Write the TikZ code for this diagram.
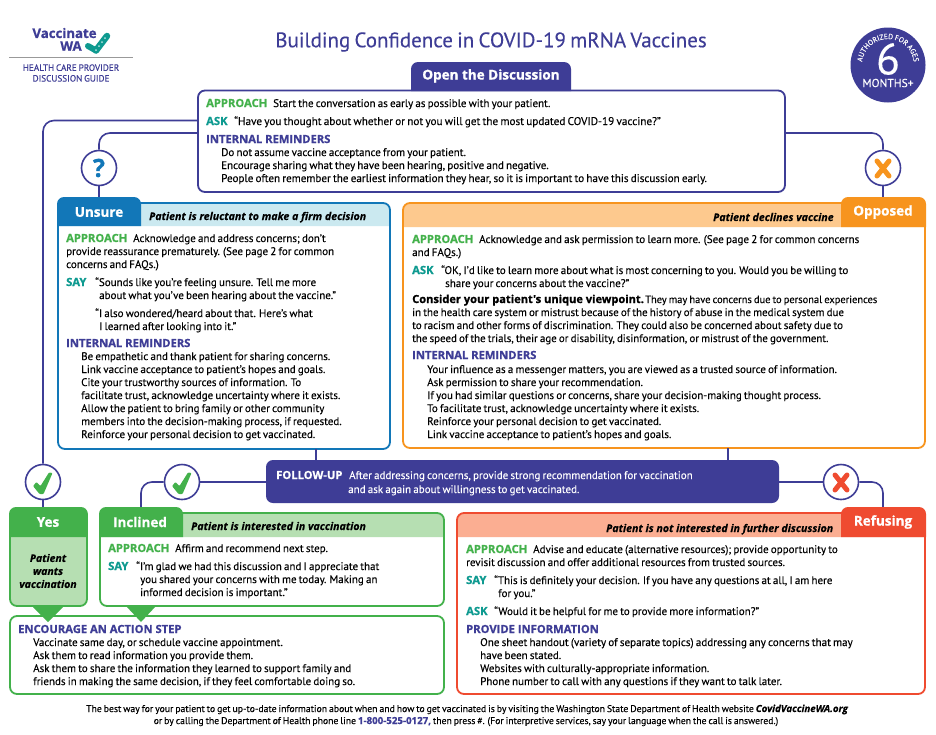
\documentclass[tikz,border=0pt]{standalone}
\usepackage{fontspec}
\usetikzlibrary{decorations.text}
\setmainfont{PT Sans}[WordSpace=0.75,FakeBold=0.12]
\newfontfamily\hd{Open Sans}[BoldFeatures={FakeBold=0.9},BoldItalicFeatures={FakeBold=0.3}]
\definecolor{navy}{HTML}{3E3D96}
\definecolor{grn}{HTML}{43B14B}
\definecolor{grnl}{HTML}{B6DFB2}
\definecolor{teal}{HTML}{0E9A90}
\definecolor{blu}{HTML}{1277B8}
\definecolor{blul}{HTML}{CBE9F0}
\definecolor{org}{HTML}{F7941E}
\definecolor{orgl}{HTML}{FDC98E}
\definecolor{rd}{HTML}{EF4B30}
\definecolor{rdl}{HTML}{FBAE92}
\tikzset{
  bodyt/.style={anchor=base west,inner sep=0pt,font=\fontsize{11}{13}\selectfont,text=black},
  lab/.style={anchor=base west,inner sep=0pt,font=\hd\bfseries\fontsize{11.2}{13}\selectfont},
  hdr/.style={anchor=base west,inner sep=0pt,font=\hd\bfseries\itshape\fontsize{10.6}{13}\selectfont,text=black},
  tabt/.style={inner sep=0pt,font=\hd\bfseries\fontsize{13.5}{15}\selectfont,text=white},
  conn/.style={draw=navy,line width=1.6pt,rounded corners=11pt},
  ring/.style={circle,draw=navy,line width=1.6pt,fill=white,minimum size=35pt,inner sep=0pt},
}
% name x1 y1 x2 y2 style
\newcommand\boxn[6]{\pgfmathsetmacro\cxx{(#2+#4)/2}\pgfmathsetmacro\cyy{(#3+#5)/2}\pgfmathsetmacro\ww{#4-#2}\pgfmathsetmacro\hh{#5-#3}%
  \node[rectangle,inner sep=0pt,outer sep=0pt,minimum width=\ww pt,minimum height=\hh pt,rounded corners=7pt,#6] (#1) at (\cxx,\cyy) {};}
% top-rounded fill: x1 y1 x2 y2 colour
\newcommand\topfill[5]{\fill[#5] (#1,#4) [rounded corners=7pt] -- (#1,#2) -- (#3,#2) [sharp corners] -- (#3,#4) -- cycle;}
\newcommand\tl[5][bodyt]{\node[#1] (#2) at (#3,#4) {#5};}
\newcommand\fs[1]{\fontsize{#1}{13}\selectfont}
\begin{document}
\begin{tikzpicture}[x=1pt,y=-1pt]
\useasboundingbox (0,0) rectangle (936,734);
\fill[white] (0,0) rectangle (936,734);
% logo
\node[inner sep=0pt,font=\hd\bfseries\fontsize{13.2}{14}\selectfont,text=navy] (logoa) at (64.5,33) {Vaccinate};
\node[inner sep=0pt,font=\hd\bfseries\fontsize{13.2}{14}\selectfont,text=navy] (logob) at (71,46) {WA};
\draw[teal,line width=6pt,line cap=round] (88,46) -- (96,50.5);
\draw[teal,line width=6.5pt,line cap=round] (96,50.5) -- (107,36);
\fill[white!70!teal] (96,50) circle (1pt) (99,46) circle (1pt) (102,42) circle (1pt) (105,38) circle (1pt);
\draw[black!40,line width=.6pt] (9,57.5) -- (133,57.5);
\node[inner sep=0pt,align=center,font=\fontsize{9.2}{10.7}\selectfont,text=navy] (logoc) at (71,73) {HEALTH CARE PROVIDER\\DISCUSSION GUIDE};
% title
\node[inner sep=0pt,font=\fontsize{21}{24}\selectfont,text=navy] (title) at (491,42) {Building Confidence in COVID-19 mRNA Vaccines};
% badge
\node[circle,fill=navy,minimum size=75pt,inner sep=0pt] (badge) at (888,65) {};
\node[inner sep=0pt,font=\fontsize{44}{46}\selectfont,text=white] (six) at (888,59) {6};
\node[inner sep=0pt,font=\fontsize{11.6}{12}\selectfont,text=white] (mon) at (888,83) {MONTHS+};
\begin{scope}[shift={(888,65)},yscale=-1]
\path[decorate,decoration={text along path,text align=center,text={|\fontsize{7.4}{8}\selectfont\color{white}|AUTHORIZED FOR AGES}}] (172:26) arc (172:8:26);
\end{scope}
% connectors top
\coordinate (oL1) at (198,120.5);
\coordinate (oL2) at (198,133);
\coordinate (oR) at (785,133);
\coordinate (fuL) at (266,482);
\coordinate (fuR) at (779,482);
\coordinate (unsBot) at (316,449);
\coordinate (oppBot) at (728,448);
\coordinate (fuTL) at (316,460);
\coordinate (fuTR) at (728,460);
% rings
\node[ring] (rq) at (99,168) {\hd\bfseries\fontsize{25}{25}\selectfont\textcolor{blu}{?}};
\node[ring] (rx) at (883,168) {};
\node[ring] (rc1) at (43,482) {};
\node[ring] (rc2) at (182,482) {};
\node[ring] (rx2) at (841,482) {};
% open box
\topfill{411}{62}{571}{91}{navy}
\node[tabt] (opent) at (491,76) {Open the Discussion};
\boxn{open}{198}{90.5}{785}{192}{draw=navy,line width=1.8pt}
\tl[lab,text=grn]{oa}{206}{107}{APPROACH}
\tl{oat}{273}{107}{Start the conversation as early as possible with your patient.}
\tl[lab,text=teal]{ob}{206}{125}{ASK}
\tl{obt}{234}{125}{\fs{11.2}“Have you thought about whether or not you will get the most updated COVID-19 vaccine?”}
\tl[lab,text=navy]{oc}{206}{143}{INTERNAL REMINDERS}
\tl{oc1}{221}{156}{Do not assume vaccine acceptance from your patient.}
\tl{oc2}{221}{169}{Encourage sharing what they have been hearing, positive and negative.}
\tl{oc3}{221}{182}{\fs{11.1}People often remember the earliest information they hear, so it is important to have this discussion early.}
% unsure
\topfill{58}{203}{390}{226}{blul}
\boxn{uns}{58}{203}{390}{449}{draw=blu,line width=1.8pt}
\topfill{57}{197}{141}{226}{blu}
\node[tabt] (unst) at (99,212) {Unsure};
\tl[hdr]{unsh}{149}{220}{Patient is reluctant to make a firm decision}
\tl[lab,text=grn]{ua}{66}{242}{APPROACH}
\tl{uat}{133}{242}{Acknowledge and address concerns; don’t}
\tl{ua2}{66}{255}{provide reassurance prematurely. (See page 2 for common}
\tl{ua3}{66}{268}{concerns and FAQs.)}
\tl[lab,text=teal]{ub}{66}{286}{SAY}
\tl{ub1}{95}{286}{“Sounds like you’re feeling unsure. Tell me more}
\tl{ub2}{99}{299}{about what you’ve been hearing about the vaccine.”}
\tl{ub3}{95}{317}{“I also wondered/heard about that. Here’s what}
\tl{ub4}{99}{330}{I learned after looking into it.”}
\tl[lab,text=navy]{uc}{66}{347}{INTERNAL REMINDERS}
\tl{uc1}{81}{360}{Be empathetic and thank patient for sharing concerns.}
\tl{uc2}{81}{373}{Link vaccine acceptance to patient’s hopes and goals.}
\tl{uc3}{81}{386}{Cite your trustworthy sources of information. To}
\tl{uc4}{81}{399}{facilitate trust, acknowledge uncertainty where it exists.}
\tl{uc5}{81}{412}{Allow the patient to bring family or other community}
\tl{uc6}{81}{425}{members into the decision-making process, if requested.}
\tl{uc7}{81}{438}{Reinforce your personal decision to get vaccinated.}
% opposed
\topfill{403}{203}{925}{227}{orgl}
\boxn{opp}{403}{203}{925}{448}{draw=org,line width=1.8pt}
\topfill{841}{197}{926}{227}{org}
\node[tabt] (oppt) at (883,212) {Opposed};
\tl[hdr]{opph}{713}{221}{Patient declines vaccine}
\tl[lab,text=grn]{pa}{412}{243}{APPROACH}
\tl{pat}{479}{243}{\fs{11.07}Acknowledge and ask permission to learn more. (See page 2 for common concerns}
\tl{pa2}{412}{256}{and FAQs.)}
\tl[lab,text=teal]{pb}{412}{274}{ASK}
\tl{pb1}{441}{274}{\fs{11.05}“OK, I’d like to learn more about what is most concerning to you. Would you be willing to}
\tl{pb2}{445}{287}{share your concerns about the vaccine?”}
\tl[lab,text=black,font=\hd\bfseries\fontsize{11.1}{13}\selectfont]{pc0}{412}{303}{Consider your patient's unique viewpoint.}
\tl{pc1}{645}{303}{\fs{10.45}They may have concerns due to personal experiences}
\tl{pc2}{412}{316}{\fs{10.93}in the health care system or mistrust because of the history of abuse in the medical system due}
\tl{pc3}{412}{329}{to racism and other forms of discrimination. They could also be concerned about safety due to}
\tl{pc4}{412}{342}{\fs{10.9}the speed of the trials, their age or disability, disinformation, or mistrust of the government.}
\tl[lab,text=navy]{pd}{412}{359}{INTERNAL REMINDERS}
\tl{pd1}{427}{373}{Your influence as a messenger matters, you are viewed as a trusted source of information.}
\tl{pd2}{427}{386}{Ask permission to share your recommendation.}
\tl{pd3}{427}{399}{If you had similar questions or concerns, share your decision-making thought process.}
\tl{pd4}{427}{412}{To facilitate trust, acknowledge uncertainty where it exists.}
\tl{pd5}{427}{425}{Reinforce your personal decision to get vaccinated.}
\tl{pd6}{427}{438}{Link vaccine acceptance to patient’s hopes and goals.}
% follow-up
\boxn{fu}{266}{460}{779}{503}{fill=navy}
\tl[lab,text=white]{fua}{276}{479}{FOLLOW-UP}
\tl[bodyt,text=white]{fu1}{349}{479}{After addressing concerns, provide strong recommendation for vaccination}
\tl[bodyt,text=white]{fu2}{348}{493}{and ask again about willingness to get vaccinated.}
% connectors
\draw[conn] (oL1) -| (rc1.north);
\draw[conn] (oL2) -| (rq.north);
\draw[conn] (oR) -| (rx.north);
\draw[conn] (rq.south) -- (99,197);
\draw[conn] (rx.south) -- (883,197);
\draw[conn] (unsBot) -- (fuTL);
\draw[conn] (oppBot) -- (fuTR);
\draw[conn] (fuL) -- (rc2.east);
\draw[conn] (fuR) -- (rx2.west);
\draw[conn] (rc1.south) -- (43,507);
\draw[conn] (rc2.west) -| (141,507);
\draw[conn] (rx2.east) -| (883,507);
% ring marks
\draw[org,line width=5pt,line cap=round] (877,161) -- (889,176) (889,161) -- (877,176);
\draw[rd,line width=5pt,line cap=round] (835,475) -- (847,490) (847,475) -- (835,490);
\fill[grn,rounded corners=.8pt] (33,486) -- (36.5,482) -- (40.5,486) -- (49,472.5) -- (52.5,473) -- (43.5,494) -- (39.5,494) -- cycle;
\fill[grn,rounded corners=.8pt] (172,486) -- (175.5,482) -- (179.5,486) -- (188,472.5) -- (191.5,473) -- (182.5,494) -- (178.5,494) -- cycle;
% yes
\fill[grn] (33,606) -- (63,606) -- (48,622) -- cycle;
\boxn{yes}{10}{510}{87}{606}{draw=grn,fill=grnl,line width=1.8pt}
\topfill{9}{507}{87.9}{537}{grn}
\node[tabt] (yest) at (48,522) {Yes};
\node[inner sep=0pt,align=center,font=\hd\bfseries\itshape\fontsize{10.5}{13}\selectfont] (yesb) at (48,571) {Patient\\wants\\vaccination};
% encourage
\boxn{enc}{10}{616}{444}{694}{draw=grn,fill=white,line width=1.8pt}
\fill[grn] (33,607) -- (63,607) -- (48,622) -- cycle;
\fill[grn] (126,606) -- (156,606) -- (141,622) -- cycle;
\tl[lab,text=navy]{ea}{18}{633}{ENCOURAGE AN ACTION STEP}
\tl{e1}{33}{646}{Vaccinate same day, or schedule vaccine appointment.}
\tl{e2}{33}{659}{Ask them to read information you provide them.}
\tl{e3}{33}{672}{Ask them to share the information they learned to support family and}
\tl{e4}{33}{685}{friends in making the same decision, if they feel comfortable doing so.}
% inclined
\topfill{99}{513}{444}{537}{grnl}
\boxn{inc}{100}{513}{444}{606}{draw=grn,line width=1.8pt}
\topfill{99}{507}{183}{537}{grn}
\node[tabt] (inct) at (140,522) {Inclined};
\tl[hdr]{inch}{191}{530}{Patient is interested in vaccination}
\tl[lab,text=grn]{ia}{108}{552}{APPROACH}
\tl{iat}{175}{552}{Affirm and recommend next step.}
\tl[lab,text=teal]{ib}{108}{570}{SAY}
\tl{ib1}{136}{570}{“I’m glad we had this discussion and I appreciate that}
\tl{ib2}{140}{583}{you shared your concerns with me today. Making an}
\tl{ib3}{140}{596}{informed decision is important.”}
% refusing
\topfill{457}{513}{925}{537}{rdl}
\boxn{ref}{457}{513}{925}{694}{draw=rd,line width=1.8pt}
\topfill{841}{507}{926}{537}{rd}
\node[tabt] (reft) at (883,522) {Refusing};
\tl[hdr]{refh}{606}{532}{Patient is not interested in further discussion}
\tl[lab,text=grn]{ra}{466}{553}{APPROACH}
\tl{rat}{533}{553}{Advise and educate (alternative resources); provide opportunity to}
\tl{ra2}{466}{566}{revisit discussion and offer additional resources from trusted sources.}
\tl[lab,text=teal]{rb}{466}{584}{SAY}
\tl{rb1}{494}{584}{“This is definitely your decision. If you have any questions at all, I am here}
\tl{rb2}{498}{597}{for you.”}
\tl[lab,text=teal]{rc}{466}{615}{ASK}
\tl{rc1t}{494}{615}{“Would it be helpful for me to provide more information?”}
\tl[lab,text=navy]{rd1}{466}{633}{PROVIDE INFORMATION}
\tl{r1}{480}{646}{\fs{11.07}One sheet handout (variety of separate topics) addressing any concerns that may}
\tl{r2}{480}{659}{have been stated.}
\tl{r3}{480}{672}{Websites with culturally-appropriate information.}
\tl{r4}{480}{685}{Phone number to call with any questions if they want to talk later.}
% footer
\node[inner sep=0pt,anchor=base,font=\fontsize{9.72}{11}\selectfont] (ft1) at (467,712) {The best way for your patient to get up-to-date information about when and how to get vaccinated is by visiting the Washington State Department of Health website {\hd\bfseries\itshape CovidVaccineWA.org}};
\node[inner sep=0pt,anchor=base,font=\fontsize{9.7}{11}\selectfont] (ft2) at (466,724) {or by calling the Department of Health phone line {\hd\bfseries\color{navy}1-800-525-0127,} then press \#. (For interpretive services, say your language when the call is answered.)};
\end{tikzpicture}
\end{document}
